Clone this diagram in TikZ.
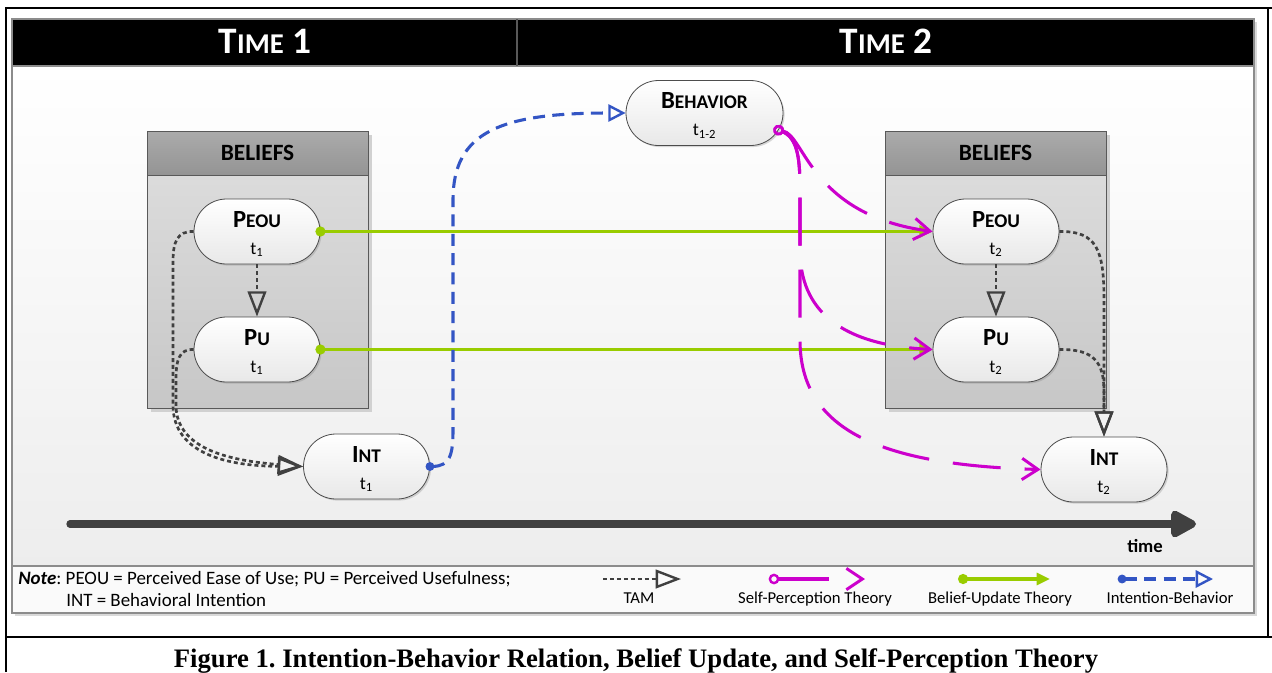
\documentclass[tikz,border=0pt]{standalone}
\usepackage{fontspec}
\setmainfont{Carlito}
\newfontfamily\capfont{Liberation Serif}
\usetikzlibrary{arrows.meta,shapes.misc,shadows}
\definecolor{tamc}{HTML}{404040}
\definecolor{bluec}{HTML}{3355C4}
\definecolor{greenc}{HTML}{99CC00}
\definecolor{magc}{HTML}{CC00CC}
\definecolor{framec}{HTML}{8C8C8C}
\frenchspacing
\newcommand\hdrtxt[3]{{\bfseries\fontsize{28}{30}\selectfont #1}{\bfseries\fontsize{21.5}{30}\selectfont #2}{\bfseries\fontsize{28}{30}\selectfont\ #3}}
\newcommand\nlab[3]{\rule{0pt}{16pt}{\bfseries\fontsize{18.5}{20}\selectfont #1}{\bfseries\fontsize{14.5}{20}\selectfont #2}\\{\fontsize{13.5}{20}\selectfont t\textsubscript{#3}}}
\tikzset{
  pill/.style={rounded rectangle, draw=black!70, line width=0.6pt,
    minimum width=94.5pt, minimum height=48.75pt, inner sep=0pt, align=center,
    font=\fontsize{13.5}{20}\selectfont,
    top color=white, bottom color=black!9,
    drop shadow={shadow xshift=1.2pt, shadow yshift=-1.2pt, opacity=0.3}},
  tam/.style={draw=tamc, line width=2pt, dash pattern=on 3pt off 2.2pt,
    -{Triangle[open, length=19pt, width=14pt, line width=1.8pt]}},
  intb/.style={draw=bluec, line width=2.3pt, dash pattern=on 9pt off 5.5pt,
    {Circle[length=6.5pt, sep=-3.2pt]}-{Triangle[open, length=13pt, width=13pt, line width=1.8pt]}},
  belup/.style={draw=greenc, line width=2.3pt,
    {Circle[length=7.5pt, sep=-3.7pt]}-{Triangle[length=10pt, width=9pt]}},
  selfp/.style={draw=magc, line width=2.3pt, dash pattern=on 36pt off 18pt,
    {Circle[open, length=8pt, width=8pt, line width=1.8pt, sep=-4pt]}-{Straight Barb[length=12pt, width=16pt, line width=2.2pt]}},
  legtxt/.style={font=\fontsize{12.5}{14}\selectfont, anchor=base, inner sep=0pt},
  notetxt/.style={font=\fontsize{14.2}{16}\selectfont, anchor=base west, inner sep=0pt},
}
\begin{document}
\begin{tikzpicture}[x=0.75pt, y=-0.75pt]
\useasboundingbox (0,0) rectangle (1272,672);
% outer frame
\draw[line width=2pt] (6,672) -- (6,8) -- (1272,8);
\draw[line width=2pt] (6,637) -- (1272,637);
\draw[line width=2pt] (1268,8) -- (1268,637);
% main panel
\fill[black!15] (15,22) rectangle (1257,616);
\shade[top color=white, bottom color=black!7, draw=framec, line width=0.8pt] (12,66) rectangle (1254,566);
\draw[fill=black, draw=framec, line width=0.8pt] (12,19) rectangle (1254,66);
\draw[black!65, line width=0.8pt] (517,19) -- (517,66);
\draw[fill=black!2, draw=framec, line width=0.8pt] (12,566) rectangle (1254,613);
\node[white, anchor=base, inner sep=0pt] (h1) at (265,53) {\hdrtxt{T}{IME}{1}};
\node[white, anchor=base, inner sep=0pt] (h2) at (886,53) {\hdrtxt{T}{IME}{2}};
% beliefs boxes
\foreach \bx/\nm in {147/bl, 885/br}{
  \fill[black!18] (\bx+4,135) rectangle (\bx+225,412);
  \shade[top color=black!14, bottom color=black!22, draw=black!65, line width=0.7pt] (\bx,175) rectangle (\bx+221,408);
  \shade[top color=black!33, bottom color=black!42, draw=black!65, line width=0.7pt] (\bx,131) rectangle (\bx+221,175);
  \node[anchor=base, inner sep=0pt, font=\bfseries\fontsize{17.5}{18}\selectfont] (\nm) at (\bx+110.5,160) {BELIEFS};
}
% time axis
\coordinate (ax0) at (70,524);
\coordinate (ax1) at (1196,524);
\draw[tamc, line width=5.5pt, line cap=round, -{Triangle[length=22pt, width=22pt, round]}] (ax0) -- (ax1);
\node[anchor=base, inner sep=0pt, font=\bfseries\fontsize{14}{16}\selectfont] (tm) at (1145,552) {time};
% nodes
\node[pill] (P1) at (257,231.5) {\nlab{P}{EOU}{1}};
\node[pill] (U1) at (257,349.5) {\nlab{P}{U}{1}};
\node[pill] (I1) at (366.5,466.5) {\nlab{I}{NT}{1}};
\node[pill, minimum width=117.75pt] (B) at (704.5,113) {\nlab{B}{EHAVIOR}{1-2}};
\node[pill] (P2) at (996,231.5) {\nlab{P}{EOU}{2}};
\node[pill] (U2) at (996,349.5) {\nlab{P}{U}{2}};
\node[pill] (I2) at (1104,469.5) {\nlab{I}{NT}{2}};
% TAM
\draw[tam] (P1.south) -- (U1.north);
\draw[tam] (P2.south) -- (U2.north);
\draw[tam] (P1.west) .. controls (177,231) and (173,242) .. (173,262) -- (173,405) .. controls (173,455) and (230,466) .. (I1.west);
\draw[tam] (U1.west) .. controls (179,349) and (176,360) .. (176,380) -- (176,405) .. controls (176,451) and (235,461) .. (I1.west);
\draw[tam] (P2.east) .. controls (1097,231) and (1104,250) .. (1104,300) -- (I2.north);
\draw[tam] (U2.east) .. controls (1094,349) and (1104,362) .. (1104,392) -- (I2.north);
% belief update
\draw[belup] (P1.east) -- (P2.west);
\draw[belup] (U1.east) -- (U2.west);
% intention-behavior
\draw[intb] (I1.east) .. controls (450,466) and (453,455) .. (453,430) -- (453,200) .. controls (453,132) and (500,113) .. (B.west);
% self-perception
\draw[selfp] (B.-13) .. controls (805,135) and (810,215) .. (P2.west);
\draw[selfp] (B.-13) .. controls (798,138) and (800,160) .. (800,190) -- (800,250) .. controls (800,310) and (840,345) .. (U2.west);
\draw[selfp] (B.-13) .. controls (798,138) and (800,160) .. (800,190) -- (800,340) .. controls (800,430) and (880,465) .. (I2.west);
% legend
\node[notetxt] (n1) at (18,584) {\textbf{\textit{Note}}: PEOU = Perceived Ease of Use; PU = Perceived Usefulness;};
\node[notetxt] (n2) at (66,606) {INT = Behavioral Intention};
\coordinate (a0) at (603,579); \coordinate (a1) at (681,579);
\draw[tam] (a0) -- (a1);
\node[legtxt] (la) at (639,603) {TAM};
\coordinate (b0) at (774,579); \coordinate (b1) at (865,579);
\draw[selfp, dash pattern=on 38pt off 30pt] (b0) -- (b1);
\node[legtxt] (lb) at (815,603) {Self-Perception Theory};
\coordinate (c0) at (963,579); \coordinate (c1) at (1050,579);
\draw[belup] (c0) -- (c1);
\node[legtxt] (lc) at (1000,603) {Belief-Update Theory};
\coordinate (d0) at (1122,579); \coordinate (d1) at (1213,579);
\draw[intb] (d0) -- (d1);
\node[legtxt] (ld) at (1170,603) {Intention-Behavior};
% caption
\node[anchor=base, inner sep=0pt, font=\capfont\bfseries\fontsize{20}{22}\selectfont] (cap) at (636,667) {Figure 1. Intention-Behavior Relation, Belief Update, and Self-Perception Theory};
\end{tikzpicture}
\end{document}
